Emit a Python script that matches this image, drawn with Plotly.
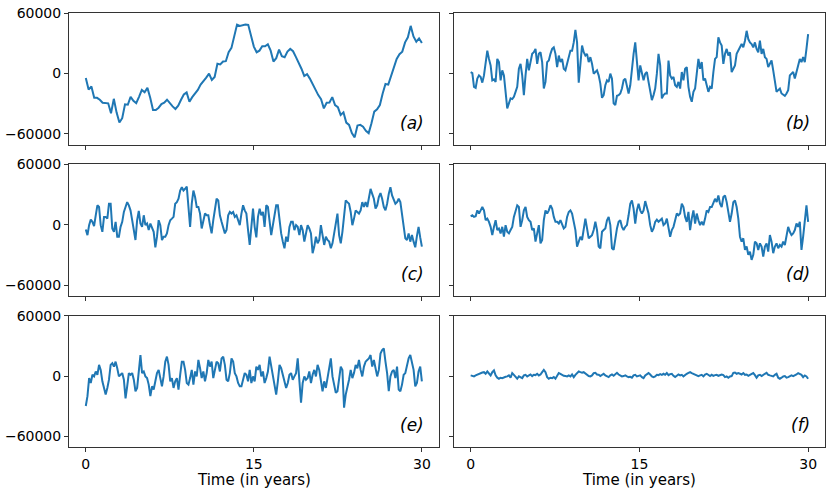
"""
Six stacked time series panels (a)-(f), shared axes, 3x2 grid
"""

import numpy as np
import plotly.graph_objects as go
from plotly.subplots import make_subplots

# values, in thousands, evenly spaced over 0..30 years
panel_a = [
    -4.6, -16.1, -13.1, -24.3, -24.3, -26.2, -29.2, -29.2, -29.8, -39.7,
    -25.3, -39.0, -48.9, -44.6, -30.8, -31.2, -23.3, -27.2, -29.5, -23.3,
    -16.4, -18.7, -14.4, -24.3, -36.4, -36.4, -34.1, -30.5, -29.2, -26.2,
    -29.8, -32.8, -35.4, -32.1, -26.2, -21.0, -19.0, -28.2, -23.6, -20.0,
    -16.4, -11.2, -8.2, -4.3, -0.3, -6.6, -3.6, 9.5, 8.9, 11.8,
    12.1, 21.0, 25.3, 35.8, 48.5, 47.2, 47.9, 48.5, 48.2, 36.7,
    26.6, 21.0, 22.6, 26.9, 26.9, 28.9, 22.6, 11.8, 15.1, 23.6,
    17.1, 16.1, 21.6, 24.3, 22.0, 16.4, 11.2, 4.6, -2.6, -0.7,
    -5.2, -11.2, -16.1, -21.6, -25.6, -34.8, -29.2, -28.9, -23.6, -31.5,
    -33.5, -41.3, -38.7, -48.9, -51.2, -59.4, -63.6, -51.8, -51.2, -53.1,
    -57.1, -59.4, -49.5, -38.0, -35.8, -31.5, -20.0, -10.5, -11.2, -3.0,
    3.9, 14.4, 19.0, 21.6, 30.8, 35.8, 47.2, 36.7, 31.5, 34.8,
    30.2,
]

panel_b = [
    1.3, 0.3, -13.4, -14.4, -5.2, -2.0, -3.6, -9.2, -2.0, 12.8,
    22.6, 14.4, 7.9, -6.9, -5.9, -8.5, 14.4, 11.2, -6.9, 3.0,
    -2.0, -18.4, -34.8, -29.8, -24.9, -25.6, -23.3, -18.4, -13.4, 4.6,
    9.5, -2.0, -21.6, -2.0, 14.4, 3.0, 11.2, 19.4, 21.0, 24.3,
    9.5, 19.4, 21.0, 11.2, -15.1, -8.5, 11.2, 12.8, 19.4, 24.3,
    25.9, 19.4, 6.2, 17.7, 11.2, 14.4, 4.6, 3.0, 9.5, 17.7,
    22.6, 22.6, 30.8, 43.3, 30.8, -9.2, 11.2, 27.6, 21.0, 17.7,
    19.4, 11.2, 16.1, 9.5, -0.3, 1.3, 3.0, -2.0, -10.2, -24.3,
    -21.6, -11.8, -6.9, -8.5, -0.3, -5.2, -29.8, -31.5, -22.3, -21.6,
    -20.0, -15.1, -6.9, -5.2, -13.4, -20.0, -11.8, 6.2, 19.4,
    30.8, 14.4, -6.9, 7.9, -0.3, -6.9, -0.3, 1.3, -8.5, -18.4,
    -26.6, -21.6, -15.1, -0.3, 19.4, 7.9, -24.9, -21.6, -20.0, -20.0,
    12.8, -2.0, -5.2, -3.6, -11.8, -13.4, -8.5, -15.1, 1.3, -6.9,
    4.6, 6.2, -13.4, -23.3, -28.2, -18.4, -15.1, -0.3, 14.4, 4.6,
    11.2, -6.9, -5.2, -11.8, -18.4, -13.4, -15.1, 1.3, 14.4, 16.1,
    35.8, 30.8, 27.6, 9.5, 19.4, 24.3, 17.7, 21.0, 1.3, 4.6,
    7.9, 19.4, 22.6, 25.9, 29.2, 25.9, 32.5, 42.3, 34.1, 30.8,
    29.2, 25.9, 30.8, 24.3, 21.0, 32.5, 19.4, 24.3, 16.1, 14.4,
    6.2, 9.5, 12.8, 3.0, -10.2, -18.4, -16.7, -15.1, -20.0, -21.6,
    -22.3, -20.0, -16.7, -2.0, -0.3, 1.3, -5.2, 3.0, 7.9, 14.4,
    11.2, 16.1, 11.2, 24.3, 39.0,
]

panel_c = [
    -4.6, -10.2, -0.3, 5.2, 3.0, -1.3, 9.5, 19.4, 17.7, -0.3,
    -6.9, 7.9, 7.9, 6.2, 21.0, 21.0, -3.6, -6.9, 3.0, -11.8,
    -11.8, -2.0, 3.0, 12.8, 17.7, 22.6, 19.4, 14.4, 4.6, -5.2,
    -15.1, 4.6, 13.8, 1.3, -2.0, 9.5, -0.3, 1.3, -5.2, 1.3,
    -2.0, -6.9, -22.3, -11.8, 4.6, -0.3, -15.1, -11.8, -11.8, -8.5,
    -0.3, 4.6, 6.2, 7.9, 21.0, 22.6, 25.9, 34.1, 37.4, 34.1,
    35.8, 38.0, 17.7, -2.0, 21.0, 34.1, 27.6, 17.7, 17.7, 11.2,
    -3.6, 3.0, 11.2, 9.5, 9.5, -0.3, -8.5, 4.6, 17.7, 25.9,
    24.3, 9.5, 3.0, -2.0, -8.5, -5.2, 9.5, 12.8, 11.2, 12.8,
    7.9, 9.5, 4.6, -0.3, 11.2, 19.4, 14.4, 11.2, -5.2, -20.0,
    -2.0, 16.1, -2.0, -12.5, 7.9, 16.1, 9.5, 12.8, -2.0, 19.4,
    17.7, 3.0, -10.2, -0.3, 7.9, 19.4, 19.4, 3.0, -8.5, -16.7,
    -23.3, -11.8, -16.7, -2.0, 3.0, 3.0, -5.2, -0.3, -2.0, -10.2,
    -0.3, -5.2, -16.7, -8.5, -0.3, -3.6, -8.5, -28.2, -21.6, -11.8,
    -18.4, -15.1, -0.3, -10.2, -20.0, -11.8, -15.1, -16.7, -23.3, -18.4,
    -6.9, 4.6, 11.2, -10.2, -18.4, -6.9, 12.8, 24.3, 22.6, 21.0,
    12.8, -0.3, 6.2, 14.4, 12.8, 11.2, 14.4, 22.6, 17.7, 22.6,
    17.7, 29.2, 35.8, 30.8, 25.9, 16.1, 19.4, 27.6, 31.5, 25.9,
    17.7, 14.4, 21.0, 30.8, 37.4, 29.2, 24.3, 21.0, 22.6, 25.9,
    22.6, 11.2, -2.0, -13.4, -15.1, -8.5, -16.7, -10.2, -16.7, -22.3,
    -11.2, -2.0, -12.5, -21.6,
]

panel_d = [
    8.5, 9.5, 7.9, 8.5, 14.4, 11.2, 14.4, 17.7, 14.4, 4.6,
    6.2, 3.0, -2.0, -10.2, -2.0, 4.6, -5.2, -3.6, -8.5, -2.0,
    -11.8, -0.3, -6.9, -8.5, -5.2, -2.0, 7.9, 12.8, 19.4, 17.7,
    -2.0, 4.6, 14.4, 17.7, 7.9, 4.6, 3.0, -5.2, -3.6, -16.7,
    -8.5, -0.3, -18.4, -15.1, 4.6, 14.4, 11.2, 14.4, 19.4, 16.1,
    7.9, 3.0, 3.0, 1.3, 4.6, 1.3, -3.6, -2.0, 7.9, 12.8,
    14.4, 11.2, 3.0, -5.2, -21.6, -16.7, -11.8, -15.1, -5.2, 6.2,
    -3.6, -13.4, -11.8, -10.2, -5.2, 3.0, -5.2, -21.6, -23.3, -6.9,
    -5.2, -3.6, 4.6, 7.9, -0.3, -23.3, -24.9, -11.8, -3.6, 3.0,
    4.6, -2.0, -5.2, -2.0, -0.3, 9.5, 21.0, 24.3, 16.1,
    1.3, 14.4, 21.0, 14.4, 11.2, 14.4, 23.6, 17.7, 11.2, -0.3,
    -6.9, -3.6, 3.0, 5.2, 3.0, 4.6, 6.2, -0.3, 1.3, 6.2,
    -3.6, -11.8, -5.2, -2.0, 4.6, 11.2, 9.5, 11.2, 21.0, 17.7,
    7.9, 3.0, 12.8, -5.2, 6.2, 14.4, 1.3, 11.2, 4.6, -0.3,
    3.0, -0.3, 6.2, 14.4, 12.8, 17.7, 17.7, 21.0, 25.9, 22.6,
    29.2, 21.0, 17.7, 27.6, 29.2, 22.6, 14.4, 3.0, 11.2, 22.6,
    24.3, 17.7, 6.2, -11.8, -16.7, -13.4, -24.9, -21.6, -29.8, -26.6,
    -34.8, -29.8, -16.7, -18.4, -24.9, -18.4, -21.6, -31.5, -21.6, -18.4,
    -26.6, -10.2, -16.7, -28.2, -21.6, -18.4, -23.3, -20.0, -21.6, -16.7,
    -20.0, -8.5, -2.0, -6.9, -10.2, -8.5, -5.2, 1.3, -2.0, 3.0,
    -24.9, -11.8, 3.0, 19.4, 3.0,
]

panel_e = [
    -29.8, -20.0, -2.0, -6.9, 1.3, -0.3, 4.6, 1.3, 11.2, 6.2,
    -5.2, -13.4, -18.4, -11.8, -3.6, 11.2, 12.8, 9.5, 14.4, 7.9,
    -0.3, 1.3, 3.0, -3.6, -22.3, -10.2, 3.0, 1.3, 3.0, -3.6,
    -15.1, -11.8, 4.6, 21.0, 3.0, 4.6, -0.3, -2.0, -8.5, -20.0,
    -10.2, -13.4, -5.2, 3.0, 6.2, -2.0, -10.2, -0.3, 14.4, 19.4,
    11.2, -5.2, -2.0, -11.8, -5.2, -2.0, -13.4, 1.3, 14.4, 14.4,
    6.2, -6.9, -8.5, -2.0, 6.2, -8.5, 4.6, -0.3, 16.1, 7.9,
    -2.0, 4.6, -5.2, 3.0, 16.1, 9.5, 14.4, -2.0, 7.9, 14.4,
    12.8, 4.6, 17.7, 19.4, 11.2, -3.6, -5.2, 3.0, 17.7, 14.4,
    3.0, -0.3, -6.9, -10.2, -10.2, -2.0, 3.0, 1.3, -5.2, 6.2,
    -6.9, -0.3, -5.2, 9.5, 6.2, 11.2, -0.3, 4.6, -6.9, -2.0,
    4.6, 19.4, 9.5, 1.3, -8.5, -18.4, -5.2, 11.2, 7.9, 1.3,
    -6.9, -11.8, -6.9, 1.3, 3.0, -3.6, -0.3, 3.0, 17.7, -2.0,
    -26.6, -6.9, -0.3, -3.6, -2.0, 4.6, -6.9, 1.3, 6.2, -0.3,
    11.2, 6.2, -5.2, -15.1, -5.2, -11.8, -2.0, 9.5, 17.7, -0.3,
    -10.2, -16.7, -15.1, -3.6, 9.5, 6.2, -31.5, -18.4, -11.8, -3.6,
    6.2, -2.0, 3.0, 11.2, 7.9, 16.1, 6.2, -0.3, 9.5, 14.4,
    16.1, 17.7, 21.0, 9.5, 16.1, 7.9, -0.3, 6.2, 22.6, 25.9,
    27.6, 14.4, 3.0, -15.1, -0.3, 4.6, 6.2, -2.0, 9.5, -13.4,
    -15.1, -8.5, 1.3, 3.0, 11.2, 17.7, 21.0, 14.4, 6.2, -10.2,
    -6.9, 4.6, 9.5, -5.2,
]

panel_f = [
    0.7, 0.0, -0.3, 0.7, 1.6, 2.3, 3.0, 3.6, 3.9, 2.3,
    4.6, 2.3, 0.7, 3.9, 5.6, 0.7, -1.6, -2.6, -1.6, -2.0,
    -1.0, -0.7, -0.3, 0.7, -1.6, 3.0, 1.3, -1.0, -2.6, -0.3,
    -1.0, -2.0, 0.7, 1.3, -0.3, 0.7, 1.6, 0.0, 1.3, 1.0,
    2.3, 0.7, 1.6, 3.9, 6.2, 3.9, -1.0, -2.6, -1.6, -2.0,
    -1.0, -2.6, -0.3, 3.0, 2.3, 1.0, 0.3, 0.0, -0.3, 0.7,
    -0.3, 1.6, -1.0, 1.3, 3.3, 4.6, 3.9, 3.3, 3.9, 2.3,
    1.3, 0.0, -0.3, 0.7, 3.0, 3.3, 1.6, 1.3, 0.0, 1.6,
    2.3, 0.7, -0.3, -1.0, 0.7, 1.6, 0.3, 2.3, 3.3, 1.6,
    0.7, -0.3, 0.0, 0.7, -0.3, -1.0, -0.7, -1.6, 0.7, 1.3,
    -0.3, 0.3, 0.7, -1.0, -2.0, 0.7, 2.3, 3.0, 1.6, -0.3,
    -1.0, -0.3, 1.3, 1.0, 2.0, 1.3, 2.3, 1.3, 3.0, 1.0,
    2.0, 2.3, 0.3, -1.0, 0.3, 1.6, 0.7, 1.3, -0.3, 1.3,
    2.3, 3.3, 3.9, 3.0, 2.3, 1.6, 1.3, 0.0, 0.7, 1.3,
    -0.3, 1.6, 2.3, 1.0, 0.0, 1.3, 0.3, 1.0, 1.3, 0.3,
    0.7, 1.6, 1.0, -1.0, -0.3, -1.6, -0.3, 0.0, 3.3, 3.6,
    2.3, 3.0, 2.3, 1.6, 3.0, 1.3, 1.6, 0.3, 1.3, 2.3,
    3.0, 1.0, -1.6, 0.7, 1.3, 0.0, 1.6, 2.3, 3.3, 1.3,
    0.7, 0.0, -0.3, 1.3, 2.3, -1.6, -2.6, -1.6, -0.3, 0.0,
    -1.6, -1.0, -0.3, 0.7, 0.0, 0.7, 1.6, 3.0, 2.3, 1.3,
    -1.0, 0.7, -0.3, -2.6,
]

panel_labels = ["(a)", "(b)", "(c)", "(d)", "(e)", "(f)"]
y_ticks = [-60000, 0, 60000]
y_tick_text = ["\u221260000", "0", "60000"]
x_ticks = [0, 15, 30]
x_title = "Time (in years)"

series = [panel_a, panel_b, panel_c, panel_d, panel_e, panel_f]

# subplot domains (paper coords)
col_domains = [[0.0, 0.489], [0.509, 1.0]]
row_domains = [[0.697, 1.0], [0.348, 0.651], [0.0, 0.302]]

axis_color = '#333333'
font_family = 'DejaVu Sans'

fig = make_subplots(rows=3, cols=2)

for i, vals in enumerate(series):
    row, col = i // 2 + 1, i % 2 + 1
    y = np.array(vals) * 1000
    t = np.linspace(0, 30, len(y))
    fig.add_trace(
        go.Scatter(x=t, y=y, mode='lines',
                   line=dict(color='#1f77b4', width=2),
                   showlegend=False, hoverinfo='skip'),
        row=row, col=col
    )

    fig.update_xaxes(
        domain=col_domains[col - 1], range=[-1.5, 31.5],
        tickvals=x_ticks, showticklabels=(row == 3),
        ticks='outside', ticklen=4, tickwidth=1, tickcolor=axis_color,
        showline=True, mirror=True, linecolor=axis_color, linewidth=1,
        showgrid=False, zeroline=False,
        tickfont=dict(size=14, color='black', family=font_family),
        row=row, col=col
    )
    fig.update_yaxes(
        domain=row_domains[row - 1], range=[-70700, 60000],
        tickvals=y_ticks, ticktext=y_tick_text, showticklabels=(col == 1),
        ticks='outside', ticklen=4, tickwidth=1, tickcolor=axis_color,
        showline=True, mirror=True, linecolor=axis_color, linewidth=1,
        showgrid=False, zeroline=False,
        tickfont=dict(size=14, color='black', family=font_family),
        row=row, col=col
    )

    suffix = '' if i == 0 else str(i + 1)
    fig.add_annotation(
        text='<i>' + panel_labels[i] + '</i>',
        xref=f'x{suffix} domain', yref=f'y{suffix} domain',
        x=0.965, y=0.165, xanchor='right', yanchor='middle',
        showarrow=False,
        font=dict(size=17, color='black', family=font_family)
    )

# x labels under the bottom row
for suffix in ['5', '6']:
    fig.add_annotation(
        text=x_title, xref=f'x{suffix} domain', yref='paper',
        x=0.5, y=-0.077, xanchor='center', yanchor='middle',
        showarrow=False,
        font=dict(size=15, color='black', family=font_family)
    )

fig.update_layout(
    width=831, height=490,
    margin=dict(l=67, r=5, t=9, b=43),
    plot_bgcolor='white', paper_bgcolor='white',
    font=dict(family=font_family, color='black')
)

# page body has a default margin; drop it so the figure fills the window
fig.write_html("out.html", config={'displayModeBar': False},
               post_script="document.body.style.margin='0';")
